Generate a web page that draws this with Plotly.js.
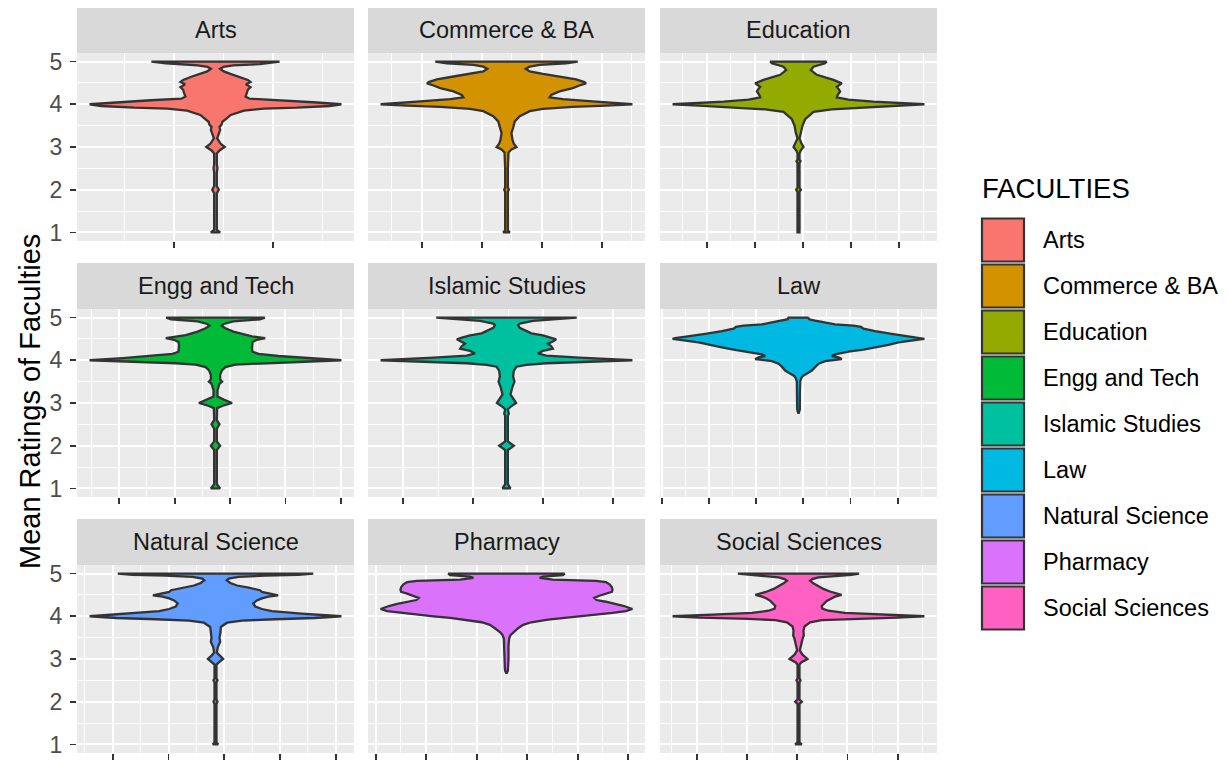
<!DOCTYPE html>
<html>
<head>
<meta charset="utf-8">
<script src="https://cdn.plot.ly/plotly-3.0.1.min.js"></script>
<style>html,body{margin:0;padding:0;background:#fff}#chart{width:1230px;height:763px}</style>
</head>
<body>
<div id="chart"></div>
<script>
// ---- Data ----
const faculties = ["Arts","Commerce & BA","Education","Engg and Tech","Islamic Studies","Law","Natural Science","Pharmacy","Social Sciences"];
const colors = ["#F8766D","#D39200","#93AA00","#00BA38","#00C19F","#00B9E3","#619CFF","#DB72FB","#FF61C3"];

// Violin profiles: rating value (y) and relative density (arbitrary units) per faculty
const yArts = [5.00,4.96,4.94,4.91,4.875,4.83,4.77,4.71,4.65,4.57,4.52,4.47,4.43,4.40,4.34,4.26,4.18,4.13,4.094,4.047,4.00,3.96,3.92,3.90,3.85,3.75,3.67,3.59,3.52,3.47,3.40,3.32,3.20,3.08,3.00,2.92,2.85,2.60,2.50,2.40,2.08,2.00,1.92,1.50,1.06,1.00];
const dArts = [194,150,134,54,24,14,25,45,71,98,106,92,100,106,98,95,91,103,196,296,381,346,246,146,86,46,34,21,18,12,14,10,5,15,28,12,4,4,6,4,4,10,4,4,4,14];

const yCom = [5.00,4.96,4.92,4.88,4.83,4.77,4.71,4.65,4.58,4.52,4.49,4.44,4.38,4.30,4.22,4.16,4.12,4.07,4.00,3.97,3.94,3.89,3.84,3.72,3.60,3.45,3.33,3.17,3.08,3.00,2.94,2.87,2.50,2.05,2.00,1.95,1.05,1.00];
const dCom = [215,180,100,70,58,70,110,160,210,235,240,220,200,160,135,130,170,260,380,300,200,110,70,40,25,20,15,18,22,30,15,6,4,4,7,4,4,10];

const yEdu = [5.00,4.96,4.88,4.80,4.69,4.57,4.49,4.41,4.36,4.30,4.22,4.16,4.11,4.06,4.00,3.97,3.94,3.88,3.82,3.65,3.50,3.33,3.20,3.10,3.00,2.91,2.85,2.70,2.67,2.62,2.05,2.00,1.95,1.00];
const dEdu = [85,80,45,37,55,105,130,115,120,125,118,115,150,225,378,300,220,100,45,20,12,8,3,8,15,6,3,3,6,3,3,7,3,3];

const yEng = [5.00,4.96,4.91,4.85,4.81,4.75,4.67,4.59,4.56,4.52,4.48,4.43,4.35,4.27,4.20,4.15,4.10,4.05,4.00,3.96,3.93,3.90,3.84,3.77,3.66,3.55,3.50,3.45,3.30,3.15,3.08,3.00,2.93,2.88,2.60,2.55,2.50,2.45,2.40,2.10,2.05,2.00,1.95,1.90,1.10,1.00];
const dEng = [149,134,54,25,18,30,54,90,110,150,125,112,110,110,112,130,190,280,380,250,120,60,30,20,14,14,20,12,6,6,25,50,20,5,4,8,12,8,4,4,9,14,9,4,4,14];

const yIsl = [5.00,4.96,4.92,4.86,4.82,4.76,4.69,4.63,4.58,4.53,4.49,4.44,4.39,4.33,4.27,4.22,4.16,4.11,4.06,4.00,3.96,3.93,3.89,3.85,3.75,3.62,3.50,3.38,3.20,3.10,3.00,2.90,2.85,2.75,2.70,2.10,2.00,1.90,1.10,1.00];
const dIsl = [212,150,80,40,35,40,60,75,110,135,150,140,125,135,140,110,95,120,220,380,250,120,60,30,22,20,24,18,12,20,29,10,4,7,4,4,22,4,4,12];

const yLaw = [5.00,4.96,4.93,4.90,4.84,4.81,4.78,4.74,4.68,4.62,4.56,4.52,4.50,4.47,4.42,4.36,4.30,4.25,4.20,4.14,4.10,4.07,4.03,3.98,3.92,3.85,3.76,3.70,3.64,3.58,3.50,3.20,2.85,2.77];
const dLaw = [30,32,50,70,110,165,188,195,230,280,330,370,378,350,300,270,230,195,150,110,100,120,130,80,60,50,40,28,14,8,5,4,4,1];

const yNat = [5.00,4.97,4.95,4.92,4.88,4.84,4.78,4.72,4.67,4.61,4.57,4.53,4.49,4.46,4.42,4.37,4.30,4.23,4.17,4.12,4.06,4.00,3.96,3.93,3.90,3.85,3.75,3.62,3.50,3.40,3.28,3.15,3.08,3.00,2.92,2.87,2.55,2.50,2.45,2.05,2.00,1.95,1.05,1.00];
const dNat = [295,250,150,70,40,34,45,65,100,134,140,165,189,160,140,125,114,120,140,170,260,380,300,180,80,35,16,15,12,14,7,4,12,23,10,3,3,6,3,3,6,3,3,8];

const yPha = [5.00,4.96,4.93,4.90,4.86,4.83,4.80,4.74,4.68,4.62,4.57,4.53,4.48,4.43,4.38,4.34,4.29,4.24,4.17,4.12,4.08,4.04,4.00,3.96,3.92,3.86,3.80,3.72,3.63,3.56,3.48,3.30,3.00,2.80,2.72,2.66];
const dPha = [176,170,110,100,140,270,300,312,318,320,318,300,280,265,272,300,330,355,380,360,320,270,220,170,125,75,50,35,20,12,8,6,6,5,4,0];

const ySoc = [5.00,4.97,4.94,4.91,4.87,4.83,4.77,4.70,4.64,4.58,4.54,4.50,4.46,4.41,4.36,4.30,4.24,4.18,4.13,4.08,4.04,4.00,3.97,3.94,3.91,3.86,3.76,3.66,3.55,3.47,3.35,3.20,3.10,3.00,2.92,2.87,2.55,2.50,2.45,2.05,2.00,1.95,1.05,1.00];
const dSoc = [183,160,110,60,42,35,45,60,75,95,110,130,110,95,85,78,70,72,90,140,260,380,300,150,70,35,18,15,16,12,8,4,12,27,8,3,3,6,3,3,10,3,3,10];

// Free x-scale tick positions per panel (first tick, spacing)
const xTick0 = [-0.149,-0.303,-0.328,-0.344,-0.369,-0.489,-0.367,-0.4675,-0.364];
const xDtick = [0.355,0.2144,0.1719,0.198,0.2502,0.1687,0.1993,0.1805,0.1796];

const yTickVals = [1,2,3,4,5];

// ---- Build ----
const ys = [yArts,yCom,yEdu,yEng,yIsl,yLaw,yNat,yPha,ySoc];
const ds = [dArts,dCom,dEdu,dEng,dIsl,dLaw,dNat,dPha,dSoc];
const W = 1230, H = 763;
const colPx = [[77,354],[368,645],[660,937]];
const rowPx = [[53,241],[309,497],[565,753]];
const stripPx = [[8,53],[263,309],[519,565]];
const FONT = "Liberation Sans, Arial, Helvetica, sans-serif";
const HALF = 0.45;

const traces = [];
const layout = {
  width: W, height: H, autosize: false,
  margin: {l:0,r:0,t:0,b:0,pad:0},
  paper_bgcolor: "#FFFFFF", plot_bgcolor: "#EBEBEB",
  font: {family: FONT, color: "#000000"},
  showlegend: false,
  shapes: [], annotations: []
};

for (let i = 0; i < 9; i++) {
  const n = i === 0 ? "" : String(i + 1);
  const col = i % 3, row = Math.floor(i / 3);
  const y = ys[i], d = ds[i];
  const mx = Math.max(...d);
  const xr = d.map(v => v / mx * HALF);
  const xs = xr.concat(xr.slice().reverse().map(v => -v));
  const yy = y.concat(y.slice().reverse());
  xs.push(xs[0]); yy.push(yy[0]);
  traces.push({
    type: "scatter", mode: "lines", x: xs, y: yy,
    xaxis: "x" + n, yaxis: "y" + n,
    fill: "toself", fillcolor: colors[i],
    line: {color: "#333333", width: 2.3},
    hoverinfo: "skip", name: faculties[i]
  });

  layout["xaxis" + n] = {
    domain: [colPx[col][0] / W, colPx[col][1] / W],
    anchor: "y" + n, range: [-0.495, 0.495],
    tickmode: "linear", tick0: xTick0[i], dtick: xDtick[i],
    ticks: "outside", ticklen: 6, tickwidth: 1.8, tickcolor: "#333333",
    showticklabels: false,
    showgrid: true, gridcolor: "#FFFFFF", gridwidth: 2,
    minor: {tick0: xTick0[i], dtick: xDtick[i] / 2, showgrid: true, gridcolor: "#FFFFFF", gridwidth: 1, ticks: ""},
    zeroline: false, showline: false, fixedrange: true
  };
  layout["yaxis" + n] = {
    domain: [1 - rowPx[row][1] / H, 1 - rowPx[row][0] / H],
    anchor: "x" + n, range: [0.8, 5.2],
    tickmode: "array", tickvals: yTickVals, ticktext: yTickVals.map(String),
    ticks: col === 0 ? "outside" : "", ticklen: 6, tickwidth: 1.8, tickcolor: "#333333",
    showticklabels: col === 0, ticklabelstandoff: 3,
    tickfont: {family: FONT, size: 23, color: "#4D4D4D"},
    showgrid: true, gridcolor: "#FFFFFF", gridwidth: 2,
    minor: {tick0: 0.5, dtick: 0.5, showgrid: true, gridcolor: "#FFFFFF", gridwidth: 1, ticks: ""},
    zeroline: false, showline: false, fixedrange: true
  };

  // facet strip
  layout.shapes.push({
    type: "rect", xref: "paper", yref: "paper", layer: "below",
    x0: colPx[col][0] / W, x1: colPx[col][1] / W,
    y0: 1 - stripPx[row][1] / H, y1: 1 - stripPx[row][0] / H,
    fillcolor: "#D9D9D9", line: {width: 0}
  });
  layout.annotations.push({
    xref: "paper", yref: "paper", showarrow: false,
    x: (colPx[col][0] + colPx[col][1]) / 2 / W,
    y: 1 - (stripPx[row][0] + stripPx[row][1]) / 2 / H,
    xanchor: "center", yanchor: "middle",
    text: faculties[i], font: {family: FONT, size: 23.5, color: "#1A1A1A"}
  });
}

// y-axis title
layout.annotations.push({
  xref: "paper", yref: "paper", showarrow: false,
  x: 30 / W, y: 1 - 402 / H, xanchor: "center", yanchor: "middle",
  textangle: -90, text: "Mean Ratings of Faculties",
  font: {family: FONT, size: 29, color: "#000000"}
});

// legend (drawn manually, ggplot style)
layout.annotations.push({
  xref: "paper", yref: "paper", showarrow: false,
  x: 980 / W, y: 1 - 188 / H, xanchor: "left", yanchor: "middle",
  text: "FACULTIES", font: {family: FONT, size: 27.5, color: "#000000"}
});
const keyTop = 217, keyH = 46;
for (let i = 0; i < 9; i++) {
  const t = keyTop + i * keyH;
  layout.shapes.push({
    type: "rect", xref: "paper", yref: "paper",
    x0: 982 / W, x1: 1024 / W,
    y0: 1 - (t + 44.5) / H, y1: 1 - (t + 1.5) / H,
    fillcolor: colors[i], line: {color: "#333333", width: 2.2}
  });
  layout.annotations.push({
    xref: "paper", yref: "paper", showarrow: false,
    x: 1041 / W, y: 1 - (t + 23) / H, xanchor: "left", yanchor: "middle",
    text: faculties[i], font: {family: FONT, size: 23.5, color: "#000000"}
  });
}

Plotly.newPlot("chart", traces, layout, {staticPlot: true, displayModeBar: false});
</script>
</body>
</html>
